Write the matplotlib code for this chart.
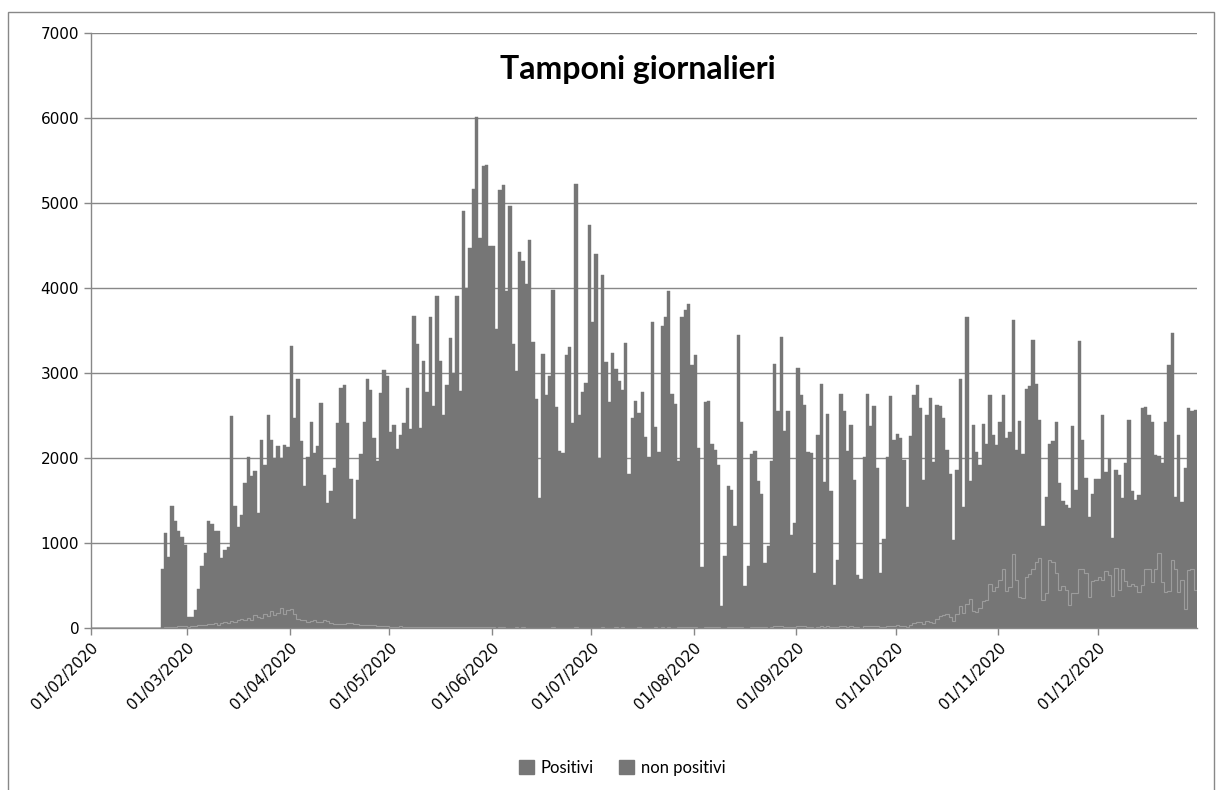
import pandas as pd
import matplotlib
matplotlib.use("Agg")
import matplotlib.pyplot as plt
import matplotlib.dates as mdates
from matplotlib.patches import Patch, Rectangle

# tamponi totali giornalieri, per mese
feb_tot = [0, 0, 0, 0, 0, 0, 0, 0, 0, 0, 0, 0, 0, 0, 0, 0, 0, 0, 0, 0, 0,
           700, 1120, 840, 1430, 1260, 1145, 1070, 980]
mar_tot = [127, 127, 217, 457, 724, 887, 1258, 1222, 1145, 1145, 819, 919, 950, 2489, 1439, 1190,
           1326, 1710, 2014, 1787, 1846, 1357, 2217, 1923, 2511, 2217, 1995, 2140, 2005, 2149, 2127]
apr_tot = [3317, 2466, 2932, 2195, 1665, 2014, 2421, 2059, 2140, 2647, 1801, 1471, 1606, 1878, 2412,
           2819, 2864, 2412, 1756, 1281, 1742, 2050, 2421, 2932, 2796, 2240, 1959, 2765, 3032, 2964]
may_tot = [2308, 2389, 2104, 2276, 2412, 2828, 2344, 3670, 3344, 2357, 3136, 2774, 3656, 2615, 3905,
           3136, 2502, 2864, 3407, 3000, 3905, 2783, 4900, 4005, 4471, 5163, 6009, 4584, 5434, 5443, 4493]
jun_tot = [4490, 3520, 5150, 5217, 3959, 4968, 3339, 3023, 4425, 4321, 4050, 4561, 3362, 2692, 1529,
           3226, 2738, 2964, 3982, 2602, 2086, 2059, 3217, 3308, 2412, 5226, 2511, 2774, 2887, 4742]
jul_tot = [3600, 4400, 2000, 4150, 3130, 2660, 3230, 3050, 2910, 2800, 3350, 1810, 2470, 2670, 2530,
           2780, 2250, 2010, 3600, 2360, 2070, 3550, 3660, 3970, 2750, 2640, 1960, 3660, 3740, 3810, 3100]
aug_tot = [3216, 2118, 718, 2655, 2675, 2169, 2090, 1914, 263, 843, 1667, 1620, 1204, 3451, 2420,
           498, 733, 2051, 2078, 1725, 1576, 765, 969, 1961, 3110, 2557, 3424, 2322, 2557, 1098, 1235]
sep_tot = [3059, 2745, 2627, 2067, 2059, 647, 2275, 2875, 1714, 2522, 1608, 510, 796, 2757, 2557,
           2078, 2384, 1745, 627, 576, 2012, 2757, 2373, 2608, 1882, 647, 1047, 2012, 2725, 2216]
oct_tot = [2286, 2235, 1980, 1424, 2255, 2745, 2859, 2588, 1745, 2510, 2706, 1949, 2627, 2608, 2471,
           2098, 1816, 1039, 1863, 2929, 1424, 3655, 1725, 2392, 2067, 1922, 2404, 2169, 2745, 2275, 2157]
nov_tot = [2424, 2745, 2235, 2302, 3627, 2098, 2431, 2051, 2812, 2843, 3392, 2875, 2451, 1204, 1541,
           2169, 2196, 2420, 1706, 1490, 1450, 1412, 2373, 1627, 3373, 2216, 1765, 1306, 1576, 1753]
dec_tot = [1753, 2510, 1831, 1992, 1059, 1863, 1804, 1529, 1941, 2443, 1616, 1510, 1569, 2588, 2600,
           2510, 2420, 2039, 2027, 1941, 2420, 3098, 3471, 1541, 2275, 1478, 1882, 2588, 2549, 2569]

# tamponi positivi giornalieri
feb_pos = [0, 0, 0, 0, 0, 0, 0, 0, 0, 0, 0, 0, 0, 0, 0, 0, 0, 0, 0, 0, 0,
           3, 10, 6, 15, 12, 20, 18, 25]
mar_pos = [15, 20, 25, 35, 40, 30, 50, 45, 60, 40, 55, 70, 60, 80, 75, 95, 110, 90, 120, 100,
           150, 130, 120, 170, 140, 200, 150, 180, 230, 170, 210]
apr_pos = [220, 160, 110, 100, 90, 70, 80, 90, 75, 70, 100, 80, 60, 50, 45, 45, 50, 60, 55, 50,
           45, 40, 35, 30, 35, 30, 25, 20, 20, 18]
may_pos = [15, 12, 10, 18, 14, 12, 10, 15, 12, 8, 14, 10, 12, 9, 11, 8, 6, 10, 9, 8, 12, 7, 10, 8,
           6, 9, 10, 7, 8, 6, 7]
jun_pos = [6, 5, 8, 7, 5, 4, 3, 6, 5, 7, 4, 5, 3, 2, 3, 5, 4, 3, 6, 4, 2, 3, 5, 4, 3, 6, 4, 3, 5, 4]
jul_pos = [4, 5, 3, 6, 4, 3, 5, 6, 4, 7, 3, 2, 4, 5, 6, 3, 4, 2, 5, 6, 4, 7, 5, 6, 4, 3, 8, 6, 7,
           9, 6]
aug_pos = [8, 5, 3, 10, 12, 8, 9, 7, 2, 4, 9, 10, 8, 15, 12, 5, 4, 14, 16, 12, 10, 6, 5, 15, 20,
           18, 22, 16, 15, 8, 10]
sep_pos = [25, 18, 20, 15, 14, 5, 12, 20, 15, 18, 12, 6, 8, 22, 18, 16, 20, 15, 6, 5, 18, 25, 20,
           22, 18, 8, 10, 20, 25, 22]
oct_pos = [30, 25, 20, 15, 30, 60, 70, 65, 50, 80, 75, 60, 110, 140, 150, 160, 130, 80, 160, 260,
           180, 280, 340, 200, 190, 240, 320, 330, 520, 430, 480]
nov_pos = [560, 690, 440, 480, 870, 560, 370, 350, 600, 640, 700, 780, 820, 330, 410, 800, 780,
           650, 450, 500, 450, 275, 410, 410, 690, 690, 650, 360, 550, 570]
dec_pos = [600, 560, 670, 620, 380, 710, 450, 700, 550, 500, 520, 490, 420, 510, 700, 690, 540,
           700, 880, 540, 420, 440, 800, 700, 420, 560, 220, 680, 690, 450]

totale = (feb_tot + mar_tot + apr_tot + may_tot + jun_tot + jul_tot + aug_tot + sep_tot
          + oct_tot + nov_tot + dec_tot)
positivi = (feb_pos + mar_pos + apr_pos + may_pos + jun_pos + jul_pos + aug_pos + sep_pos
            + oct_pos + nov_pos + dec_pos)
giorni = pd.date_range("2020-02-01", periods=len(totale), freq="D")
non_positivi = [t - p for t, p in zip(totale, positivi)]

grigio = "#767676"
linee = "#888888"

fig = plt.figure(figsize=(12.2, 7.9), dpi=100)
ax = fig.add_axes([91 / 1220, 1 - 628 / 790, (1197 - 91) / 1220, (628 - 33) / 790])

x = mdates.date2num(giorni)
ax.bar(x, positivi, width=1.0, align="edge", color=grigio, edgecolor=grigio, linewidth=0.3)
ax.bar(x, non_positivi, bottom=positivi, width=1.0, align="edge", color=grigio,
       edgecolor=grigio, linewidth=0.3)
edges = list(x) + [x[-1] + 1]
ax.stairs(positivi, edges, color="#9c9c9c", linewidth=0.8, baseline=None)

ax.set_ylim(0, 7000)
ax.set_yticks(range(0, 7001, 1000))
ax.set_xlim(mdates.date2num(pd.Timestamp("2020-02-01")), mdates.date2num(pd.Timestamp("2020-12-31")))
ax.xaxis.set_major_locator(mdates.MonthLocator())
ax.xaxis.set_major_formatter(mdates.DateFormatter("%d/%m/%Y"))

ax.grid(axis="y", color=linee, linewidth=1)
ax.set_axisbelow(True)
for s in ["top", "right"]:
    ax.spines[s].set_visible(False)
for s in ["left", "bottom"]:
    ax.spines[s].set_color(linee)
    ax.spines[s].set_linewidth(1)
ax.tick_params(axis="both", colors=linee, length=5, width=1, labelcolor="black", labelsize=11)
for lab in ax.get_xticklabels():
    lab.set_rotation(45)
    lab.set_ha("right")
    lab.set_rotation_mode("anchor")

fig.text(0.523, 1 - 70 / 790, "Tamponi giornalieri", ha="center", va="center",
         fontsize=23, fontweight="bold", family="Lato")

handles = [Patch(color=grigio), Patch(color=grigio)]
fig.legend(handles, ["Positivi", "non positivi"], loc="center", bbox_to_anchor=(0.51, 1 - 768 / 790),
           ncol=2, frameon=False, handlelength=0.9, handleheight=0.9, handletextpad=0.4,
           columnspacing=1.5, prop={"family": "Lato", "size": 12})

fig.patches.append(Rectangle((8 / 1220, -0.02), (1214 - 8) / 1220, 1 - 12 / 790 + 0.02,
                             transform=fig.transFigure, fill=False, edgecolor=linee, linewidth=1))

fig.savefig("out.png", dpi=100)
